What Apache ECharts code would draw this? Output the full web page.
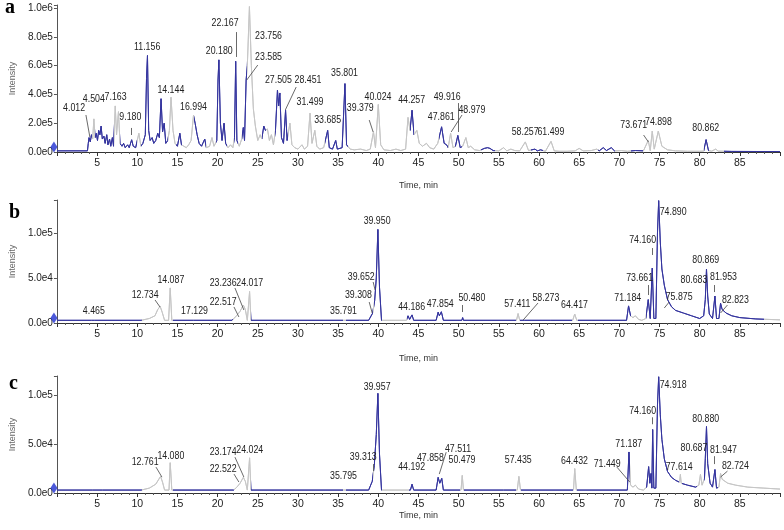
<!DOCTYPE html>
<html><head><meta charset="utf-8">
<script src="https://cdn.jsdelivr.net/npm/echarts@6/dist/echarts.min.js"></script>
<style>html,body{margin:0;padding:0;background:#fff}#c{width:784px;height:530px}</style>
</head><body><div id="c"></div>
<script>
// ---------- DATA ----------
const xTicksMax = 90;
// panel a trace [time, intensity]
const aTrace = [[0,8e3],[3.8,8e3],[3.9,6e4],[4.0,1.0e5],[4.15,7e4],[4.3,1.2e5],[4.45,9e4],[4.6,2.3e5],[4.75,1.0e5],[4.9,1.3e5],[5.05,8e4],[5.2,1.5e5],[5.35,1.2e5],[5.5,1.8e5],[5.65,9e4],[5.85,1.1e5],[6.0,6e4],[6.2,1.2e5],[6.35,5e4],[6.55,9e4],[6.7,4e4],[6.9,1.0e5],[7.05,4e4],[7.26,3.2e5],[7.42,1.2e5],[7.66,2.8e5],[7.85,6e4],[8.1,4e4],[8.3,6e4],[8.5,3e4],[8.8,5e4],[9.0,3e4],[9.3,8.5e4],[9.5,4e4],[9.8,3e4],[10.2,1.3e5],[10.45,4e4],[10.7,6e4],[11.0,1.2e5],[11.15,5.1e5],[11.27,6.7e5],[11.42,1.5e5],[11.6,8e4],[11.85,1.0e5],[12.05,6e4],[12.3,8e4],[12.55,1.3e5],[12.75,1.0e5],[12.96,3.7e5],[13.15,1.4e5],[13.35,2.0e5],[13.55,6e4],[13.8,8e4],[14.0,1.5e5],[14.2,3.8e5],[14.45,1.5e5],[14.7,6e4],[15.0,4e4],[15.3,1.3e5],[15.5,5e4],[15.8,4e4],[16.1,3e4],[16.4,5e4],[16.7,8e4],[17.0,2.55e5],[17.2,2.0e5],[17.45,1.2e5],[17.7,6e4],[18.0,4e4],[18.4,9e4],[18.6,3e4],[19.0,4e4],[19.3,1.0e5],[19.55,4e4],[19.9,8e4],[20.05,5e5],[20.16,6.4e5],[20.35,2.0e5],[20.55,8e4],[20.8,2.0e5],[21.0,6e4],[21.3,3e4],[21.6,5e4],[21.9,3e4],[22.1,1.0e5],[22.25,6.3e5],[22.4,8e4],[22.7,4e4],[23.0,9e4],[23.2,1.7e5],[23.35,8e4],[23.55,5e5],[23.7,6e5],[23.96,1.01e6],[24.2,6e5],[24.45,3e5],[24.7,1.8e5],[25.0,8e4],[25.3,1.2e5],[25.5,9e4],[25.75,1.8e5],[25.95,1.5e5],[26.2,1.6e5],[26.45,8e4],[26.7,1.2e5],[26.95,5e4],[27.2,1.5e5],[27.45,4.3e5],[27.6,3.2e5],[27.75,4.1e5],[27.95,1.0e5],[28.2,6e4],[28.46,2.9e5],[28.65,8e4],[29.0,2.0e5],[29.25,5e4],[29.6,3e4],[30.0,2e4],[30.5,5e4],[30.8,2e4],[31.2,4e4],[31.5,2.7e5],[31.75,6e4],[32.1,1.5e5],[32.35,4e4],[32.7,2e4],[33.2,3e4],[33.7,1.5e5],[33.9,3e4],[34.3,2e4],[34.7,8e4],[34.9,2e4],[35.5,3e4],[35.85,4.75e5],[36.05,5e4],[36.5,2e4],[37.0,1.5e4],[37.8,2e4],[38.5,1e4],[39.0,2e4],[39.4,1.4e5],[39.65,3e4],[40.0,3.3e5],[40.3,5e4],[40.7,1.5e4],[41.5,1e4],[42.2,2e4],[42.8,1e4],[43.4,2e4],[43.7,2.4e5],[43.95,1.5e5],[44.2,2.9e5],[44.45,1.2e5],[44.8,1.5e5],[45.1,6e4],[45.5,4e4],[46.0,6e4],[46.4,3e4],[46.9,2e4],[47.4,6e4],[47.88,1.75e5],[48.2,6e4],[48.5,5e4],[48.7,3e4],[49.0,1.3e5],[49.3,3e4],[49.6,4e4],[49.9,1.15e5],[50.2,3e4],[50.5,4e4],[50.9,1.0e5],[51.2,3e4],[51.5,4e4],[52.0,1.5e4],[52.6,1e4],[53.2,2.5e4],[53.6,3e4],[53.9,2.5e4],[54.3,1e4],[55.0,8e3],[55.6,3e4],[56.0,8e3],[56.5,2e4],[57.0,1e4],[57.6,8e3],[58.3,7e4],[58.7,1e4],[59.5,2e4],[59.8,8e3],[60.2,1.5e4],[60.8,5e3],[61.5,7.4e4],[61.9,8e3],[62.5,5e3],[63.5,5e3],[64.5,8e3],[65.0,2.5e4],[65.5,8e3],[66.5,1e4],[67.2,2e4],[67.5,8e3],[68.0,3e4],[68.4,1e4],[69.0,3e4],[69.4,8e3],[70.3,1e4],[71.0,5e3],[72.0,1e4],[73.0,8e3],[73.6,8e4],[73.85,1e4],[74.1,1.45e5],[74.35,2e4],[74.85,1.45e5],[75.3,4e4],[76.0,1.5e4],[77.0,8e3],[78.5,5e3],[80.0,5e3],[80.5,6e3],[80.8,8.6e4],[81.1,1e4],[81.5,6e3],[82.0,2e4],[82.3,6e3],[84.0,4e3],[90,3e3]];
const bTrace = [[0,3e3],[4.3,3e3],[4.5,5e3],[4.7,3e3],[10.5,3e3],[11.5,5e3],[12.2,8e3],[12.55,1.5e4],[12.85,1.85e4],[13.1,1.2e4],[13.4,3e3],[13.9,3e3],[14.1,3.9e4],[14.3,3e3],[17.0,3e3],[17.1,4.5e3],[17.2,3e3],[21.8,3e3],[22.35,8e3],[22.8,1.3e4],[23.2,2.0e4],[23.45,1.5e4],[23.7,3e3],[23.85,3e3],[23.98,3.5e4],[24.15,3e3],[35.7,3e3],[35.8,4.5e3],[35.9,3e3],[38.8,3e3],[39.3,1.1e4],[39.55,2.5e4],[39.75,5e4],[39.95,1.04e5],[40.15,4e4],[40.4,3e3],[43.5,3e3],[43.7,8e3],[43.9,4e3],[44.2,9e3],[44.4,3e3],[47.2,3e3],[47.45,1.2e4],[47.6,8e3],[47.85,1.25e4],[48.1,3e3],[50.4,3e3],[50.5,6e3],[50.6,3e3],[57.2,3e3],[57.4,1.05e4],[57.6,3e3],[58.2,3e3],[58.3,5e3],[58.4,3e3],[61.4,3e3],[61.5,5e3],[61.6,3e3],[64.2,3e3],[64.45,1e4],[64.7,3e3],[70.9,3e3],[71.15,1.9e4],[71.4,8e3],[71.7,6e3],[72.0,8e3],[72.4,4e3],[72.8,3e3],[73.3,5e3],[73.6,2.6e4],[73.85,5e3],[74.1,6.1e4],[74.3,5e3],[74.55,5e3],[74.75,1.0e5],[74.9,1.36e5],[75.1,9e4],[75.3,6e4],[75.6,4.2e4],[76.0,2.6e4],[76.5,1.8e4],[77.0,1.4e4],[78.0,1.1e4],[79.0,8e3],[80.0,5e3],[80.5,8e3],[80.7,2.6e4],[80.85,6e4],[81.0,3e4],[81.2,1e4],[81.6,5e3],[81.9,3e4],[82.1,5e3],[82.4,5e3],[82.6,2.2e4],[82.8,1.5e4],[83.3,1.1e4],[84.0,8e3],[85.0,6e3],[87.0,4.5e3],[90,3.5e3]];
const cTrace = [[0,3e3],[4.4,3e3],[4.5,4e3],[4.6,3e3],[5.7,3e3],[5.8,4e3],[5.9,3e3],[10.5,3e3],[11.5,5e3],[12.3,9e3],[12.9,1.7e4],[13.15,1.1e4],[13.4,3e3],[13.95,3e3],[14.1,3.1e4],[14.3,3e3],[22.0,3e3],[22.4,6e3],[22.8,1e4],[23.2,1.6e4],[23.45,1.2e4],[23.7,3e3],[23.85,3e3],[23.98,3.6e4],[24.15,3e3],[35.7,3e3],[35.8,5e3],[35.9,3e3],[38.8,3e3],[39.25,1.2e4],[39.5,2.8e4],[39.75,6e4],[39.95,1.02e5],[40.15,4e4],[40.4,3e3],[44.0,3e3],[44.2,9e3],[44.4,3e3],[47.2,3e3],[47.45,1.6e4],[47.65,1e4],[47.9,1.5e4],[48.1,3e3],[50.3,3e3],[50.45,1.8e4],[50.6,3e3],[55.6,3e3],[55.7,5e3],[55.8,3e3],[57.3,3e3],[57.5,1.7e4],[57.7,3e3],[64.3,3e3],[64.45,2.5e4],[64.65,3e3],[71.0,3e3],[71.2,4.2e4],[71.4,8e3],[71.7,6e3],[72.0,8e3],[72.4,4e3],[73.0,3e3],[73.4,6e3],[73.65,2.7e4],[73.8,1e4],[73.95,2e4],[74.05,5e3],[74.15,6.5e4],[74.3,5e3],[74.55,5e3],[74.75,9e4],[74.9,1.19e5],[75.1,8e4],[75.3,5.5e4],[75.6,3.5e4],[76.0,2.2e4],[76.5,1.6e4],[77.0,1.3e4],[77.5,1.1e4],[77.6,1.9e4],[77.7,1e4],[78.5,8e3],[79.5,6e3],[79.9,8e3],[80.1,1.9e4],[80.3,8e3],[80.6,1.5e4],[80.7,3.5e4],[80.85,6.8e4],[81.0,3e4],[81.3,1e4],[81.6,6e3],[81.9,2.4e4],[82.1,5e3],[82.4,6e3],[82.6,2e4],[82.8,1.4e4],[83.5,1e4],[84.5,8e3],[86.0,6e3],[88.0,5e3],[90,4e3]];

// time ranges drawn in blue (rest grey)
const aBlue = [[0,4.4],[4.8,7.1],[7.9,10.0],[10.5,13.8],[14.8,15.6],[17.1,18.6],[19.8,21.2],[22.0,22.5],[23.0,23.65],[25.5,26.0],[27.2,28.8],[33.4,36.2],[43.9,44.5],[47.5,48.7],[49.6,50.4],[52.8,54.5],[59.0,60.5],[67.3,69.5],[71.5,73.0],[80.5,81.2],[83.0,90]];
const bBlue = [[0,10.6],[14.4,21.9],[24.2,35.6],[36,39.4],[39.5,40.4],[43.6,57.1],[57.7,64.1],[64.8,71.45],[73.3,88]];
const cBlue = [[0,10.6],[14.4,22.0],[24.2,35.6],[36,39.4],[39.5,40.4],[43.8,50.2],[50.7,57.2],[57.8,64.2],[64.7,71.35],[73.3,77.45],[77.8,79.7],[80.5,82.3]];

// peak labels [text, time, intensity]
const aLabels = [['4.012',2.14,3.06e5],['4.504',4.59,3.68e5],['7.163',7.30,3.82e5],['9.180',9.14,2.43e5],['11.156',11.23,7.29e5],['14.144',14.18,4.31e5],['16.994',17.0,3.13e5],['20.180',20.2,7.01e5],['22.167',20.93,8.96e5],['23.756',26.34,8.06e5],['23.585',26.34,6.6e5],['27.505',27.57,5.0e5],['28.451',31.25,5.0e5],['31.499',31.5,3.47e5],['33.685',33.7,2.22e5],['35.801',35.8,5.49e5],['39.379',37.76,3.06e5],['40.024',39.97,3.82e5],['44.257',44.15,3.61e5],['47.861',47.84,2.43e5],['49.916',48.57,3.82e5],['48.979',51.65,2.92e5],['58.257',58.28,1.39e5],['61.499',61.48,1.39e5],['73.671',71.8,1.87e5],['74.898',74.87,2.08e5],['80.862',80.76,1.67e5]];
const bLabels = [['4.465',4.59,1.33e4],['12.734',10.98,3.11e4],['14.087',14.18,4.78e4],['17.129',17.13,1.33e4],['23.236',20.69,4.44e4],['22.517',20.69,2.33e4],['24.017',24.0,4.44e4],['35.791',35.67,1.33e4],['39.308',37.52,3.11e4],['39.652',37.88,5.11e4],['39.950',39.85,1.13e5],['44.186',44.15,1.78e4],['47.854',47.71,2.11e4],['50.480',51.65,2.78e4],['57.411',57.3,2.11e4],['58.273',60.86,2.78e4],['64.417',64.42,2.0e4],['71.184',71.05,2.78e4],['73.661',72.53,5.0e4],['74.160',72.9,9.22e4],['74.890',76.7,1.23e5],['75.875',77.45,2.89e4],['80.869',80.76,7.0e4],['80.683',79.29,4.78e4],['81.953',82.97,5.11e4],['82.823',84.45,2.56e4]];
const cLabels = [['12.761',10.98,3.16e4],['14.080',14.18,3.77e4],['23.174',20.69,4.18e4],['22.522',20.69,2.45e4],['24.024',24.0,4.39e4],['35.795',35.67,1.73e4],['39.313',38.13,3.67e4],['39.957',39.85,1.09e5],['44.192',44.15,2.65e4],['47.858',46.49,3.57e4],['47.511',49.93,4.49e4],['50.479',50.42,3.37e4],['57.435',57.42,3.37e4],['64.432',64.42,3.26e4],['71.449',68.48,2.96e4],['71.187',71.18,5.0e4],['74.160',72.9,8.36e4],['74.918',76.7,1.11e5],['77.614',77.45,2.65e4],['80.880',80.76,7.55e4],['80.687',79.29,4.59e4],['81.947',82.97,4.39e4],['82.724',84.45,2.75e4]];

// leader / tick lines [t1, i1, t2, i2]
const aLeaders = [[3.61,2.57e5,4.10,1.04e5],[9.26,1.67e5,9.26,1.18e5],[22.28,8.33e5,22.28,6.6e5],[23.76,1.03e6,25.11,8.6e5],[25.0,6.04e5,23.63,5.0e5],[29.78,4.51e5,28.43,2.92e5],[38.87,2.22e5,39.36,1.39e5],[49.93,3.4e5,49.93,1.39e5],[50.42,2.57e5,49.07,1.39e5],[73.02,1.18e5,73.63,6.9e4]];
const bLeaders = [[12.21,2.56e4,12.83,1.78e4],[22.16,3.89e4,23.27,1.44e4],[22.04,1.78e4,22.65,6.7e3],[38.87,2.33e4,39.24,1.11e4],[39.36,4.56e4,39.6,3.67e4],[50.42,2.0e4,50.42,1.22e4],[59.88,2.22e4,58.03,3.3e3],[73.63,4.22e4,73.63,3.11e4],[74.13,8.33e4,74.13,7.56e4],[75.6,1.31e5,74.86,1.37e5],[76.21,2.33e4,75.6,1.67e4],[81.87,4.22e4,81.87,3.44e4],[83.46,2.0e4,82.6,1.11e4]];
const cLeaders = [[12.33,2.65e4,13.07,1.63e4],[22.16,3.67e4,23.27,1.63e4],[22.04,1.94e4,22.65,1.12e4],[39.36,2.96e4,39.36,2.24e4],[48.45,4.18e4,47.59,1.94e4],[69.7,2.65e4,71.3,1.12e4],[74.13,7.75e4,74.13,7.04e4],[75.6,1.18e5,74.86,1.21e5],[81.87,3.77e4,81.87,2.96e4],[83.46,2.24e4,82.6,1.63e4]];

const yMax = [1.021e6, 1.367e5, 1.198e5];
const yInterval = [2e5, 5e4, 5e4];
const panelLetters = ['a','b','c'];

// ---------- CHART ----------
const BLUE = '#34349e', GREY = '#c6c6c6';
const FONT = '"Liberation Sans",sans-serif';
const grids = [{left:48,right:4,top:5,height:147},{left:48,right:4,top:200,height:123},{left:48,right:4,top:376,height:117}];
const traces = [aTrace,bTrace,cTrace], blues=[aBlue,bBlue,cBlue], labels=[aLabels,bLabels,cLabels], leaders=[aLeaders,bLeaders,cLeaders];
const nameGaps = [29, 31, 16];

const xAxis = grids.map((g,i)=>({
  type:'value', gridIndex:i, min:0, max:xTicksMax, interval:5,
  axisLine:{lineStyle:{color:'#333',width:1}},
  axisTick:{show:true,length:4,lineStyle:{color:'#333'}},
  minorTick:{show:true,splitNumber:5,length:2,lineStyle:{color:'#555'}},
  splitLine:{show:false},
  axisLabel:{color:'#222',fontSize:10.5,fontFamily:FONT,margin:6,formatter:v=>(v>0&&v<xTicksMax)?String(v):''},
  name:'Time, min', nameLocation:'middle', nameGap:nameGaps[i],
  nameTextStyle:{color:'#333',fontSize:9,fontFamily:FONT}
}));
const yAxis = grids.map((g,i)=>({
  type:'value', gridIndex:i, min:0, max:yMax[i], interval:yInterval[i],
  axisLine:{show:true,lineStyle:{color:'#555'}},
  axisTick:{show:true,length:3,lineStyle:{color:'#555'}},
  splitLine:{show:false},
  axisLabel:{color:'#222',fontSize:10,fontFamily:FONT,margin:4,
    formatter:v=>{const k=v/yInterval[i]; return Math.abs(k-Math.round(k))<1e-6 ? v.toExponential(1).replace('e+','e') : '';}},
  name:'Intensity', nameLocation:'middle', nameGap:34,
  nameTextStyle:{color:'#666',fontSize:9,fontFamily:FONT}
}));

const series = [], visualMap = [];
traces.forEach((tr,i)=>{
  visualMap.push({type:'piecewise',show:false,seriesIndex:series.length,dimension:0,
    pieces:blues[i].map(r=>({gte:r[0],lt:r[1],color:BLUE})),outOfRange:{color:GREY}});
  series.push({type:'line',xAxisIndex:i,yAxisIndex:i,data:tr,showSymbol:false,symbol:'none',
    lineStyle:{width:1},animation:false,z:2});
  series.push({type:'scatter',xAxisIndex:i,yAxisIndex:i,symbolSize:0,animation:false,z:5,silent:true,
    data:labels[i].map(l=>[l[1],l[2]]),
    markLine:{silent:true,symbol:['none','none'],animation:false,label:{show:false},
      lineStyle:{color:'#444',width:0.8,type:'solid'},
      data:leaders[i].map(s=>[{coord:[s[0],s[1]]},{coord:[s[2],s[3]]}])}
  });
  series.push({type:'scatter',xAxisIndex:i,yAxisIndex:i,clip:false,animation:false,z:6,
    data:[[0,0]],symbol:'diamond',symbolSize:[7,11],symbolOffset:[-3,-5],itemStyle:{color:'#1f2fd0'}});
});

const chart = echarts.init(document.getElementById('c'),null,{renderer:'canvas'});
chart.setOption({animation:false,backgroundColor:'#fff',grid:grids,xAxis,yAxis,series,visualMap});

// letters + peak labels (narrow text, positioned through the chart's own axes)
const letterPos = [[5,14],[9,219],[9,390]];
const graphic = panelLetters.map((t,i)=>({type:'text',left:letterPos[i][0],top:letterPos[i][1]-16,
  style:{text:t,font:'bold 20px "Liberation Serif","DejaVu Serif",serif',fill:'#000'}}));
labels.forEach((arr,i)=>arr.forEach(l=>{
  const p = chart.convertToPixel({gridIndex:i},[l[1],l[2]]);
  graphic.push({type:'text',x:p[0],y:p[1],scaleX:0.8,z:10,silent:true,
    style:{text:l[0],font:'11px "Liberation Sans",sans-serif',fill:'#222',align:'center',verticalAlign:'middle'}});
}));
chart.setOption({graphic});
</script></body></html>
